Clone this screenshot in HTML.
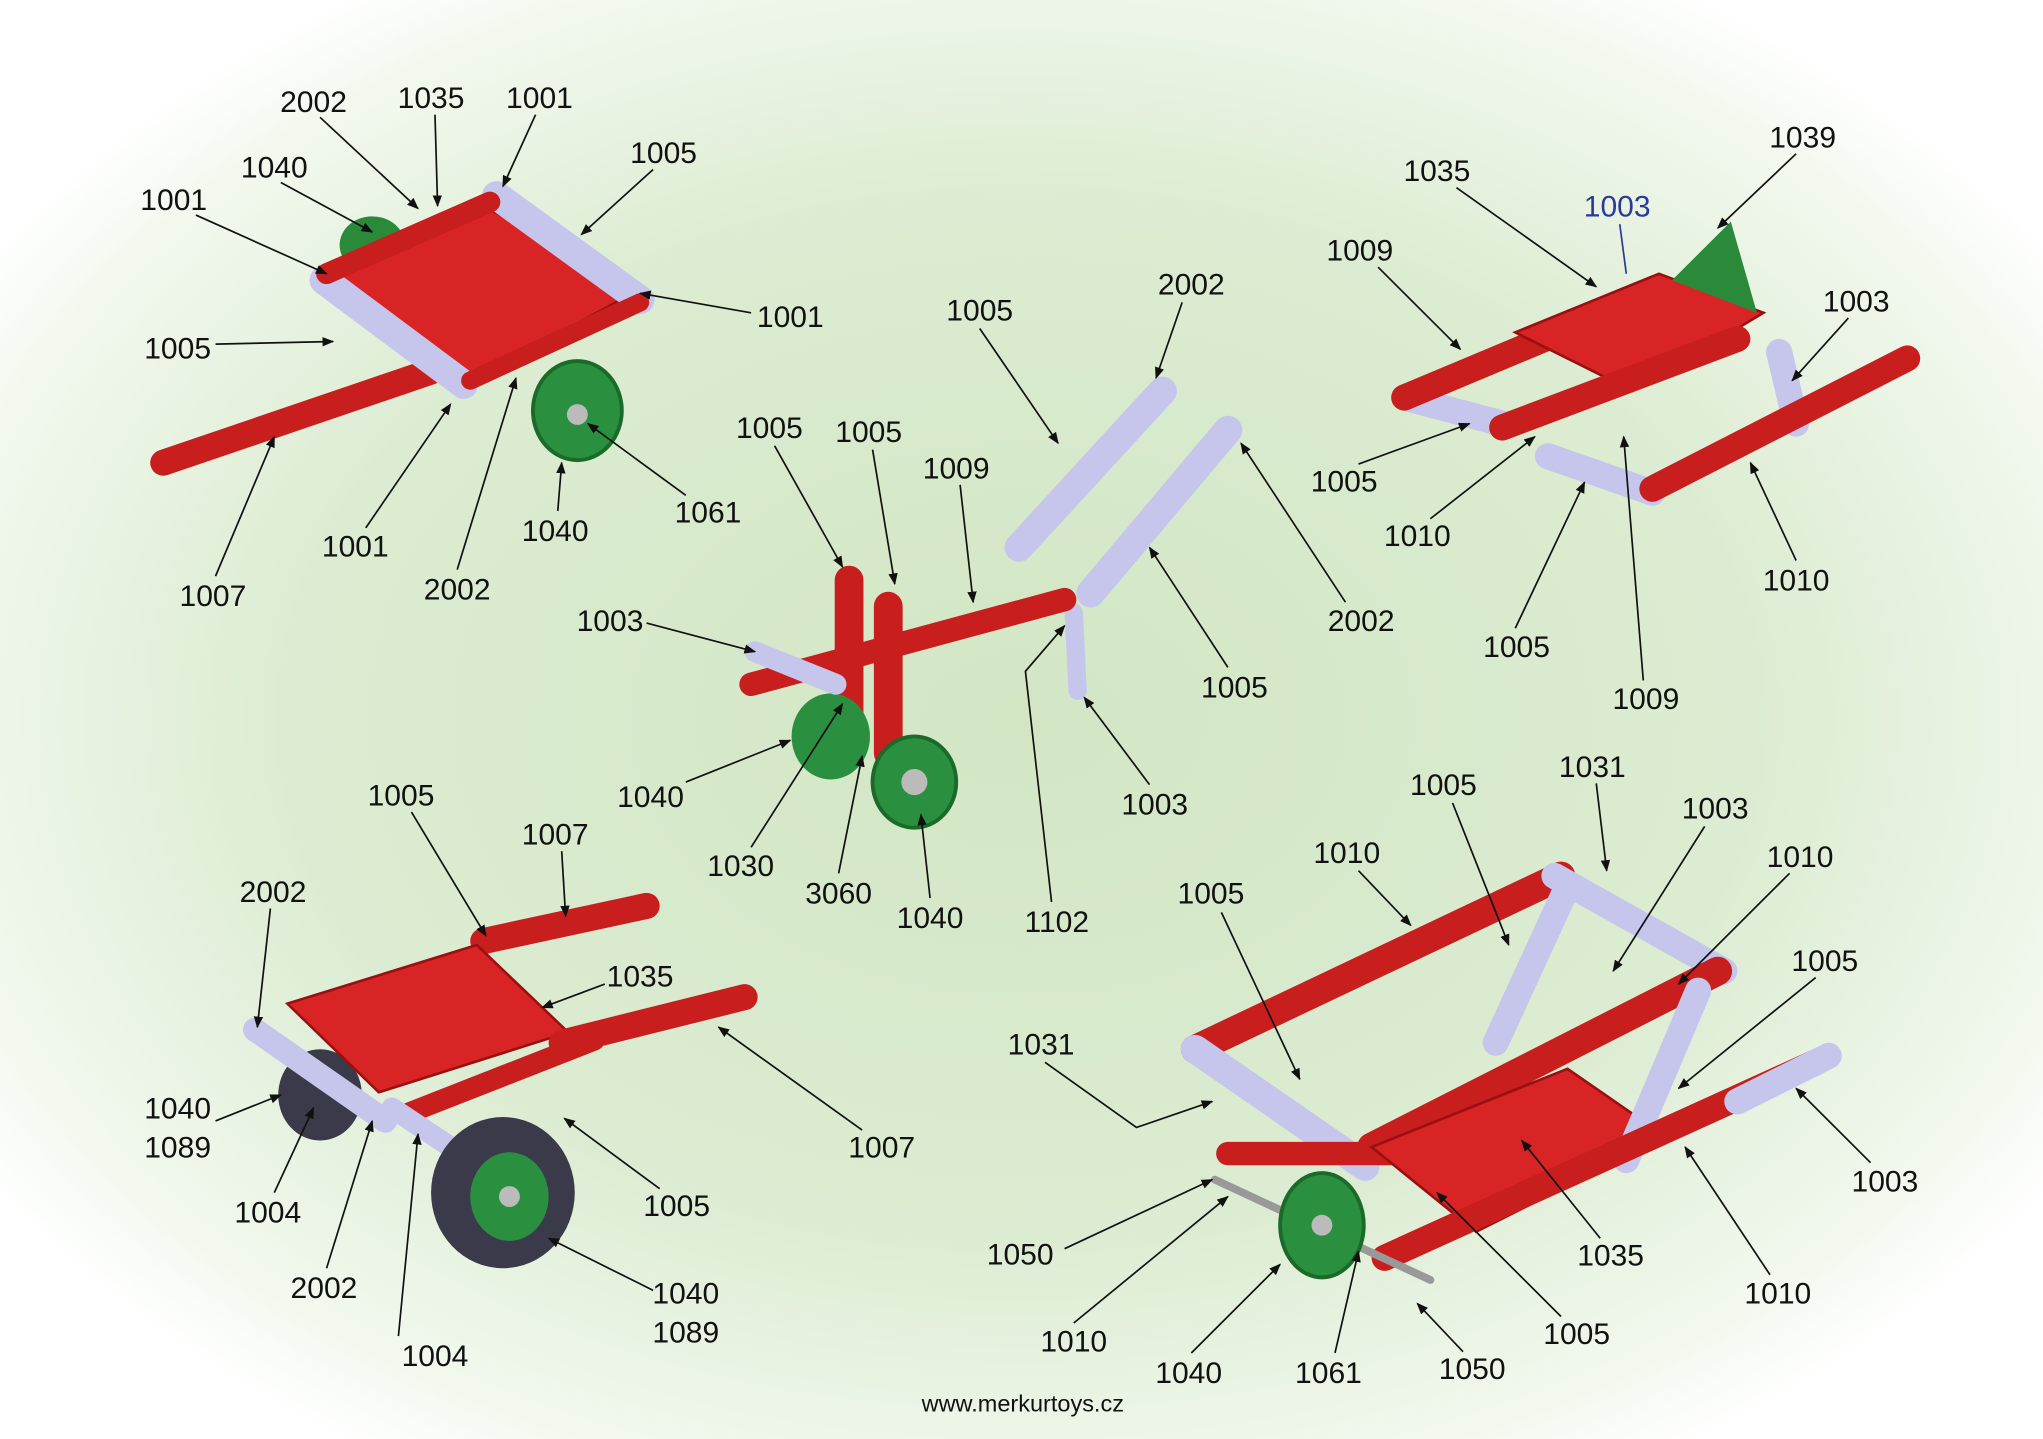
<!DOCTYPE html>
<html><head><meta charset="utf-8"><style>
html,body{margin:0;padding:0;width:2043px;height:1439px;overflow:hidden;background:#fff}
svg{display:block}
text{font-family:"Liberation Sans",Arial,sans-serif;font-size:23px;fill:#111;text-anchor:middle}
</style></head><body>
<svg width="2043" height="1439" viewBox="0 0 1564 1104" preserveAspectRatio="none" xmlns="http://www.w3.org/2000/svg">
<defs>
<radialGradient id="bg" cx="0.5" cy="0.5" r="0.6">
<stop offset="0" stop-color="#d2e6c4"/><stop offset="0.6" stop-color="#dcecd2"/><stop offset="0.9" stop-color="#f2f8ee"/><stop offset="1" stop-color="#ffffff"/>
</radialGradient>
<marker id="a" viewBox="0 0 10 10" refX="9" refY="5" markerWidth="9" markerHeight="9" orient="auto" markerUnits="userSpaceOnUse"><path d="M0,1 L10,5 L0,9z" fill="#111"/></marker>
</defs>
<rect width="1564" height="1104" fill="url(#bg)"/>
<g stroke-linecap="round" fill="none">
<!-- top-left -->
<line x1="125" y1="355" x2="330" y2="285" stroke="#c81e1e" stroke-width="20"/>
<ellipse cx="285" cy="188" rx="25" ry="22" fill="#2a8a3a" stroke="none"/>
<polygon points="250,210 370,158 490,222 360,292" fill="#d82424" stroke="#9a1010" stroke-width="2"/>
<line x1="248" y1="215" x2="355" y2="295" stroke="#c6c6ec" stroke-width="22"/>
<line x1="380" y1="150" x2="490" y2="230" stroke="#c6c6ec" stroke-width="22"/>
<line x1="250" y1="210" x2="375" y2="155" stroke="#c81e1e" stroke-width="16"/>
<line x1="360" y1="292" x2="490" y2="232" stroke="#c81e1e" stroke-width="14"/>
<ellipse cx="442" cy="315" rx="34" ry="38" fill="#2a9040" stroke="#1a6a28" stroke-width="3"/>
<circle cx="442" cy="318" r="8" fill="#bbb"/>
<!-- middle -->
<line x1="780" y1="420" x2="890" y2="300" stroke="#c6c6ec" stroke-width="22"/>
<line x1="835" y1="455" x2="940" y2="330" stroke="#c6c6ec" stroke-width="22"/>
<line x1="822" y1="470" x2="825" y2="530" stroke="#c6c6ec" stroke-width="14"/>
<line x1="575" y1="525" x2="815" y2="460" stroke="#c81e1e" stroke-width="18"/>
<line x1="650" y1="445" x2="650" y2="560" stroke="#c81e1e" stroke-width="22"/>
<ellipse cx="636" cy="565" rx="30" ry="33" fill="#2a9040"/>
<line x1="680" y1="465" x2="680" y2="578" stroke="#c81e1e" stroke-width="22"/>
<line x1="578" y1="500" x2="640" y2="525" stroke="#c6c6ec" stroke-width="16"/>
<ellipse cx="700" cy="600" rx="32" ry="35" fill="#2a9040" stroke="#1a6a28" stroke-width="3"/>
<circle cx="700" cy="600" r="10" fill="#bbb"/>
<!-- top-right -->
<line x1="1075" y1="305" x2="1150" y2="325" stroke="#c6c6ec" stroke-width="20"/>
<line x1="1075" y1="305" x2="1230" y2="240" stroke="#c81e1e" stroke-width="20"/>
<polygon points="1160,255 1270,210 1350,240 1250,300" fill="#d82424" stroke="#9a1010" stroke-width="2"/>
<polygon points="1280,215 1325,170 1345,240" fill="#2a8a3a"/>
<line x1="1150" y1="328" x2="1330" y2="260" stroke="#c81e1e" stroke-width="20"/>
<line x1="1362" y1="270" x2="1375" y2="325" stroke="#c6c6ec" stroke-width="20"/>
<line x1="1185" y1="350" x2="1265" y2="378" stroke="#c6c6ec" stroke-width="20"/>
<line x1="1265" y1="375" x2="1460" y2="275" stroke="#c81e1e" stroke-width="20"/>
<!-- bottom-left -->
<line x1="370" y1="722" x2="495" y2="695" stroke="#c81e1e" stroke-width="20"/>
<ellipse cx="245" cy="840" rx="32" ry="35" fill="#3a3a4a"/>
<polygon points="220,770 365,725 435,792 290,838" fill="#d82424" stroke="#9a1010" stroke-width="2"/>
<line x1="195" y1="790" x2="295" y2="860" stroke="#c6c6ec" stroke-width="18"/>
<line x1="430" y1="800" x2="570" y2="765" stroke="#c81e1e" stroke-width="20"/>
<line x1="310" y1="855" x2="455" y2="798" stroke="#c81e1e" stroke-width="16"/>
<line x1="300" y1="850" x2="345" y2="880" stroke="#c6c6ec" stroke-width="16"/>
<ellipse cx="385" cy="915" rx="55" ry="58" fill="#3a3a4a"/>
<ellipse cx="390" cy="918" rx="30" ry="34" fill="#2a9040"/>
<circle cx="390" cy="918" r="8" fill="#bbb"/>
<!-- bottom-right -->
<line x1="915" y1="805" x2="1195" y2="672" stroke="#c81e1e" stroke-width="22"/>
<line x1="1190" y1="672" x2="1320" y2="745" stroke="#c6c6ec" stroke-width="20"/>
<line x1="1145" y1="800" x2="1200" y2="680" stroke="#c6c6ec" stroke-width="20"/>
<line x1="915" y1="805" x2="1045" y2="895" stroke="#c6c6ec" stroke-width="22"/>
<line x1="940" y1="885" x2="1070" y2="885" stroke="#c81e1e" stroke-width="18"/>
<line x1="1050" y1="880" x2="1315" y2="745" stroke="#c81e1e" stroke-width="22"/>
<polygon points="1050,880 1200,820 1275,872 1130,945" fill="#d82424" stroke="#9a1010" stroke-width="2"/>
<line x1="1245" y1="890" x2="1300" y2="760" stroke="#c6c6ec" stroke-width="20"/>
<line x1="1060" y1="965" x2="1390" y2="815" stroke="#c81e1e" stroke-width="20"/>
<line x1="1330" y1="845" x2="1400" y2="810" stroke="#c6c6ec" stroke-width="20"/>
<line x1="930" y1="905" x2="1095" y2="982" stroke="#999" stroke-width="6"/>
<ellipse cx="1012" cy="940" rx="32" ry="40" fill="#2a9040" stroke="#1a6a28" stroke-width="3"/>
<circle cx="1012" cy="940" r="8" fill="#bbb"/>
</g>
<g stroke="#111" stroke-width="1.3" fill="none" marker-end="url(#a)">
<line x1="245" y1="90" x2="320" y2="160"/><line x1="333" y1="88" x2="335" y2="158"/><line x1="410" y1="88" x2="385" y2="143"/>
<line x1="215" y1="140" x2="285" y2="178"/><line x1="500" y1="130" x2="445" y2="180"/><line x1="150" y1="165" x2="250" y2="210"/>
<line x1="575" y1="240" x2="490" y2="225"/><line x1="165" y1="264" x2="255" y2="262"/><line x1="165" y1="442" x2="210" y2="335"/>
<line x1="280" y1="405" x2="345" y2="310"/><line x1="350" y1="437" x2="395" y2="290"/><line x1="427" y1="392" x2="430" y2="355"/>
<line x1="525" y1="380" x2="450" y2="325"/>
<line x1="750" y1="252" x2="810" y2="340"/><line x1="905" y1="232" x2="885" y2="290"/><line x1="593" y1="342" x2="645" y2="435"/>
<line x1="668" y1="345" x2="685" y2="448"/><line x1="735" y1="372" x2="745" y2="462"/><line x1="495" y1="478" x2="578" y2="500"/>
<line x1="1030" y1="462" x2="950" y2="340"/><line x1="940" y1="512" x2="880" y2="420"/><line x1="525" y1="600" x2="605" y2="568"/>
<line x1="575" y1="650" x2="645" y2="540"/><line x1="642" y1="670" x2="660" y2="580"/><line x1="712" y1="689" x2="705" y2="625"/>
<polyline points="805,692 785,515 815,480"/><line x1="880" y1="602" x2="830" y2="535"/>
<line x1="1375" y1="118" x2="1315" y2="175"/><line x1="1115" y1="144" x2="1222" y2="220"/><line x1="1055" y1="205" x2="1118" y2="268"/>
<line x1="1415" y1="244" x2="1372" y2="292"/><line x1="1040" y1="356" x2="1125" y2="325"/><line x1="1095" y1="398" x2="1175" y2="335"/>
<line x1="1160" y1="482" x2="1213" y2="370"/><line x1="1258" y1="522" x2="1243" y2="335"/><line x1="1375" y1="430" x2="1340" y2="355"/>
<line x1="315" y1="623" x2="372" y2="718"/><line x1="430" y1="653" x2="433" y2="703"/><line x1="207" y1="697" x2="197" y2="788"/>
<line x1="463" y1="755" x2="415" y2="773"/><line x1="660" y1="867" x2="550" y2="788"/><line x1="165" y1="860" x2="215" y2="840"/>
<line x1="210" y1="915" x2="240" y2="850"/><line x1="250" y1="973" x2="285" y2="860"/><line x1="505" y1="912" x2="432" y2="858"/>
<line x1="305" y1="1025" x2="320" y2="870"/><line x1="500" y1="990" x2="420" y2="950"/>
<line x1="1112" y1="616" x2="1155" y2="725"/><line x1="1222" y1="601" x2="1230" y2="668"/><line x1="1305" y1="634" x2="1235" y2="745"/>
<line x1="1040" y1="668" x2="1080" y2="710"/><line x1="1370" y1="670" x2="1285" y2="755"/><line x1="935" y1="700" x2="995" y2="828"/>
<line x1="1390" y1="750" x2="1285" y2="835"/><polyline points="800,815 870,865 928,845"/><line x1="1432" y1="892" x2="1375" y2="835"/>
<line x1="815" y1="958" x2="928" y2="905"/><line x1="1225" y1="950" x2="1165" y2="875"/><line x1="1355" y1="978" x2="1290" y2="880"/>
<line x1="822" y1="1015" x2="940" y2="918"/><line x1="1195" y1="1010" x2="1100" y2="915"/><line x1="912" y1="1038" x2="980" y2="970"/>
<line x1="1022" y1="1038" x2="1040" y2="960"/><line x1="1120" y1="1037" x2="1085" y2="1000"/>
</g>
<line x1="1240" y1="172" x2="1245" y2="210" stroke="#2a3a9a" stroke-width="1.3"/>
<g>
<text x="240" y="86">2002</text><text x="330" y="83">1035</text><text x="413" y="83">1001</text><text x="210" y="136">1040</text>
<text x="508" y="125">1005</text><text x="133" y="161">1001</text><text x="605" y="251">1001</text><text x="136" y="275">1005</text>
<text x="163" y="465">1007</text><text x="272" y="427">1001</text><text x="350" y="460">2002</text><text x="425" y="415">1040</text><text x="542" y="401">1061</text>
<text x="750" y="246">1005</text><text x="912" y="226">2002</text><text x="589" y="336">1005</text><text x="665" y="339">1005</text><text x="732" y="367">1009</text>
<text x="467" y="484">1003</text><text x="1042" y="484">2002</text><text x="945" y="535">1005</text><text x="498" y="619">1040</text>
<text x="567" y="672">1030</text><text x="642" y="693">3060</text><text x="712" y="712">1040</text><text x="809" y="715">1102</text><text x="884" y="625">1003</text>
<text x="1380" y="113">1039</text><text x="1100" y="139">1035</text><text x="1238" y="166" style="fill:#2a3a9a">1003</text><text x="1041" y="200">1009</text>
<text x="1421" y="239">1003</text><text x="1029" y="377">1005</text><text x="1085" y="419">1010</text><text x="1161" y="504">1005</text><text x="1260" y="544">1009</text><text x="1375" y="453">1010</text>
<text x="307" y="618">1005</text><text x="425" y="648">1007</text><text x="209" y="692">2002</text><text x="490" y="757">1035</text><text x="675" y="888">1007</text>
<text x="136" y="858">1040</text><text x="136" y="888">1089</text><text x="205" y="938">1004</text><text x="248" y="996">2002</text><text x="518" y="933">1005</text>
<text x="333" y="1048">1004</text><text x="525" y="1000">1040</text><text x="525" y="1030">1089</text>
<text x="1105" y="610">1005</text><text x="1219" y="596">1031</text><text x="1313" y="628">1003</text><text x="1031" y="662">1010</text><text x="1378" y="665">1010</text>
<text x="927" y="693">1005</text><text x="1397" y="745">1005</text><text x="797" y="809">1031</text><text x="1443" y="914">1003</text><text x="781" y="970">1050</text>
<text x="1233" y="971">1035</text><text x="1361" y="1000">1010</text><text x="822" y="1037">1010</text><text x="1207" y="1031">1005</text><text x="910" y="1061">1040</text>
<text x="1017" y="1061">1061</text><text x="1127" y="1058">1050</text>
<text x="783" y="1083" style="font-size:18px">www.merkurtoys.cz</text>
</g>
</svg>
</body></html>
